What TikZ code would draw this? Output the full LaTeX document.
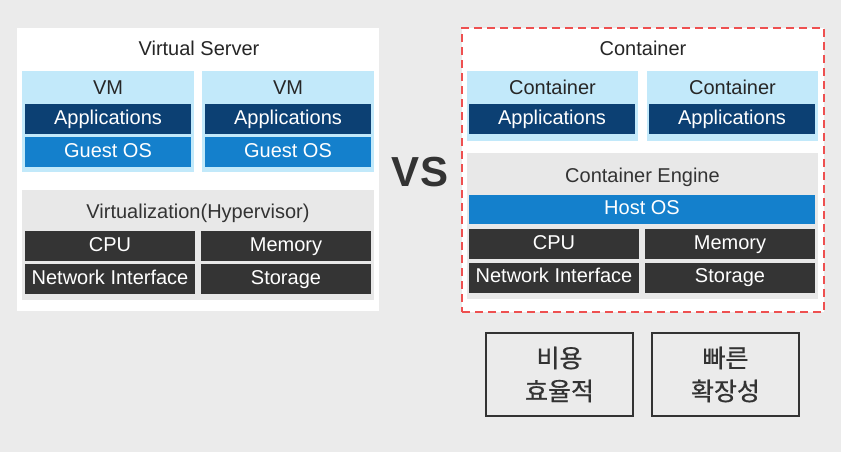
\documentclass[tikz,border=0pt]{standalone}
\usepackage{fontspec}
\setmainfont{Liberation Sans}
\newfontfamily\krfont{Noto Sans CJK KR}[FakeBold=0.6]
\usetikzlibrary{positioning}
\definecolor{bggray}{RGB}{235,235,235}
\definecolor{vmblue}{RGB}{194,233,250}
\definecolor{appnavy}{RGB}{12,64,115}
\definecolor{osblue}{RGB}{20,128,204}
\definecolor{hwgray}{RGB}{52,52,52}
\definecolor{laygray}{RGB}{232,232,232}
\definecolor{dashred}{RGB}{238,80,80}
\tikzset{
  panel/.style={fill=white,minimum width=181pt,minimum height=141.5pt,inner sep=0pt},
  guest/.style={fill=vmblue,minimum width=86pt,minimum height=50.5pt,inner sep=0pt},
  layer/.style={fill=laygray,minimum width=176pt,minimum height=55pt,inner sep=0pt},
  bar/.style={text=white,font=\fontsize{10}{12}\selectfont,text height=7.3pt,text depth=2.1pt,
    minimum width=83pt,minimum height=15pt,inner sep=0pt},
  apps/.style={bar,fill=appnavy},
  os/.style={bar,fill=osblue},
  hw/.style={bar,fill=hwgray,minimum width=85pt},
  lbl/.style={font=\fontsize{10}{12}\selectfont,text=black!85,text height=7.3pt,text depth=2.1pt,inner sep=0pt},
  merit/.style={draw=black!80,line width=0.8pt,fill=bggray,minimum width=73.5pt,minimum height=41.5pt,
    align=center,font=\krfont\fontsize{12.5}{16.5}\selectfont,text=black!80}
}
\begin{document}
\begin{tikzpicture}[x=0.5pt,y=-0.5pt]
\useasboundingbox (0,0) rectangle (841,452);
\fill[bggray] (0,0) rectangle (841,452);
% virtual server
\node[panel] (server) at (198,169.5) {};
\node[lbl] (serverT) at (199,50) {Virtual Server};
\node[guest] (vmL) at (108,121.5) {};
\node[guest] (vmR) at (288,121.5) {};
\node[lbl] (vmLT) at (108,89) {VM};
\node[lbl] (vmRT) at (288,89) {VM};
\node[apps] (appL) at (108,119) {Applications};
\node[apps] (appR) at (288,119) {Applications};
\node[os] (guestL) at (108,152) {Guest OS};
\node[os] (guestR) at (288,152) {Guest OS};
\node[layer] (hyp) at (198,245) {};
\node[lbl,text=black!80] (hypT) at (198,213) {Virtualization(Hypervisor)};
\node[hw] (cpuL) at (110,246) {CPU};
\node[hw] (memL) at (286,246) {Memory};
\node[hw] (netL) at (110,279) {Network Interface};
\node[hw] (stoL) at (286,279) {Storage};
% vs
\node[font=\bfseries\fontsize{21}{24}\selectfont,text=black!80] (vs) at (420,172) {VS};
% container
\node[panel,draw=dashred,dashed,line width=1.2pt,dash pattern=on 4pt off 2.5pt,minimum height=142pt] (frame) at (643,170) {};
\node[lbl] (frameT) at (643,50) {Container};
\node[guest,minimum width=85.5pt,minimum height=35pt] (cL) at (552.5,106) {};
\node[guest,minimum width=85.5pt,minimum height=35pt] (cR) at (732.5,106) {};
\node[lbl] (cLT) at (552.5,89) {Container};
\node[lbl] (cRT) at (732.5,89) {Container};
\node[apps] (appCL) at (552,119) {Applications};
\node[apps] (appCR) at (732,119) {Applications};
\node[layer,minimum width=175.5pt,minimum height=73pt] (eng) at (642.5,226) {};
\node[lbl,text=black!80] (engT) at (642.5,177) {Container Engine};
\node[os,minimum width=173pt,minimum height=14.5pt] (host) at (642,209.5) {Host OS};
\node[hw] (cpuR) at (554,244) {CPU};
\node[hw] (memR) at (730,244) {Memory};
\node[hw] (netR) at (554,277.5) {Network Interface};
\node[hw] (stoR) at (730,277.5) {Storage};
% merits
\node[merit] (cost) at (559.5,374.5) {비용\\효율적};
\node[merit] (scale) at (725.5,374.5) {빠른\\확장성};
\end{tikzpicture}
\end{document}
